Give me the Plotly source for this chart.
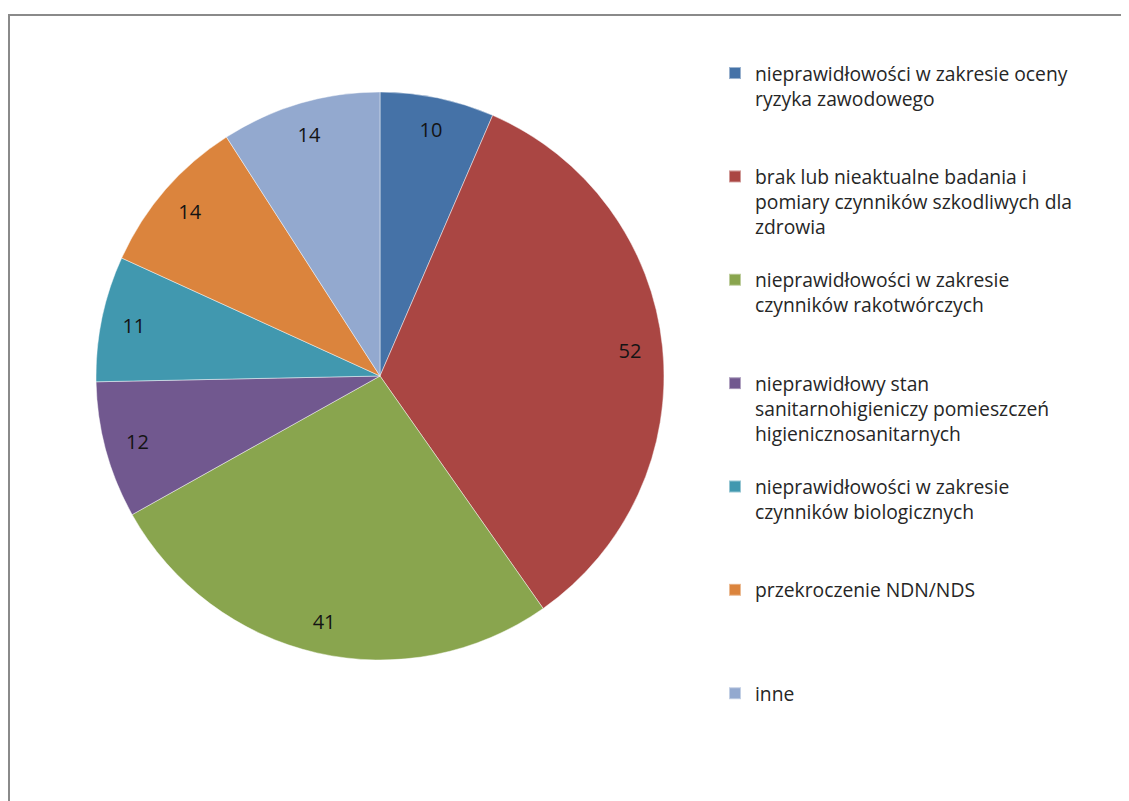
import plotly.graph_objects as go

categories = [
    "nieprawidłowości w zakresie oceny ryzyka zawodowego",
    "brak lub nieaktualne badania i pomiary czynników szkodliwych dla zdrowia",
    "nieprawidłowości w zakresie czynników rakotwórczych",
    "nieprawidłowy stan sanitarnohigieniczy pomieszczeń higienicznosanitarnych",
    "nieprawidłowości w zakresie czynników biologicznych",
    "przekroczenie NDN/NDS",
    "inne",
]
legend_lines = [
    ["nieprawidłowości w zakresie oceny", "ryzyka zawodowego"],
    ["brak lub nieaktualne badania i", "pomiary czynników szkodliwych dla", "zdrowia"],
    ["nieprawidłowości w zakresie", "czynników rakotwórczych"],
    ["nieprawidłowy stan", "sanitarnohigieniczy pomieszczeń", "higienicznosanitarnych"],
    ["nieprawidłowości w zakresie", "czynników biologicznych"],
    ["przekroczenie NDN/NDS"],
    ["inne"],
]
values = [10, 52, 41, 12, 11, 14, 14]
colors = ["#4572A7", "#AA4643", "#89A54E", "#71588F", "#4198AF", "#DB843D", "#93A9CF"]

FONT = "'Open Sans', Lato, sans-serif"
N_LINES = 4
legend_text = [
    "<br>".join(lines + ["&nbsp;"] * (N_LINES - len(lines))) for lines in legend_lines
]

W, H = 1129, 801
cx, cy = 372 / W, 1 - 368 / H
rx, ry = 284 / W, 284 / H
dom_x = [cx - rx, cx + rx]
dom_y = [cy - ry, cy + ry]

fig = go.Figure()
fig.add_trace(go.Pie(
    labels=legend_text,
    values=values,
    sort=False,
    direction="clockwise",
    rotation=0,
    marker=dict(colors=colors, line=dict(color="rgba(255,255,255,0.45)", width=1)),
    textinfo="none",
    hoverinfo="label+value",
    domain=dict(x=dom_x, y=dom_y),
    showlegend=True,
))
# transparent ring carrying the value labels near the outer edge
fig.add_trace(go.Pie(
    labels=legend_text,
    values=values,
    sort=False,
    direction="clockwise",
    rotation=0,
    hole=0.77,
    marker=dict(colors=["rgba(0,0,0,0)"] * len(values), line=dict(width=0)),
    textinfo="value",
    textposition="inside",
    insidetextorientation="horizontal",
    textfont=dict(family=FONT, size=20, color="#141414"),
    hoverinfo="skip",
    domain=dict(x=dom_x, y=dom_y),
    showlegend=False,
))

fig.update_layout(
    width=W,
    height=H,
    margin=dict(l=0, r=0, t=0, b=0),
    paper_bgcolor="white",
    plot_bgcolor="white",
    font=dict(family=FONT, color="#262626"),
    legend=dict(
        x=707 / W,
        y=1 - 46 / H,
        xanchor="left",
        yanchor="top",
        valign="top",
        font=dict(family=FONT, size=19.3, color="#262626"),
        itemsizing="constant",
        tracegroupgap=0,
    ),
    shapes=[dict(
        type="rect", xref="paper", yref="paper",
        x0=1 / W, x1=1.02, y0=-0.02, y1=1 - 7 / H,
        line=dict(color="#8a8a8a", width=2),
        fillcolor="rgba(0,0,0,0)",
        layer="above",
    )],
)

fig.write_html("out.html")
